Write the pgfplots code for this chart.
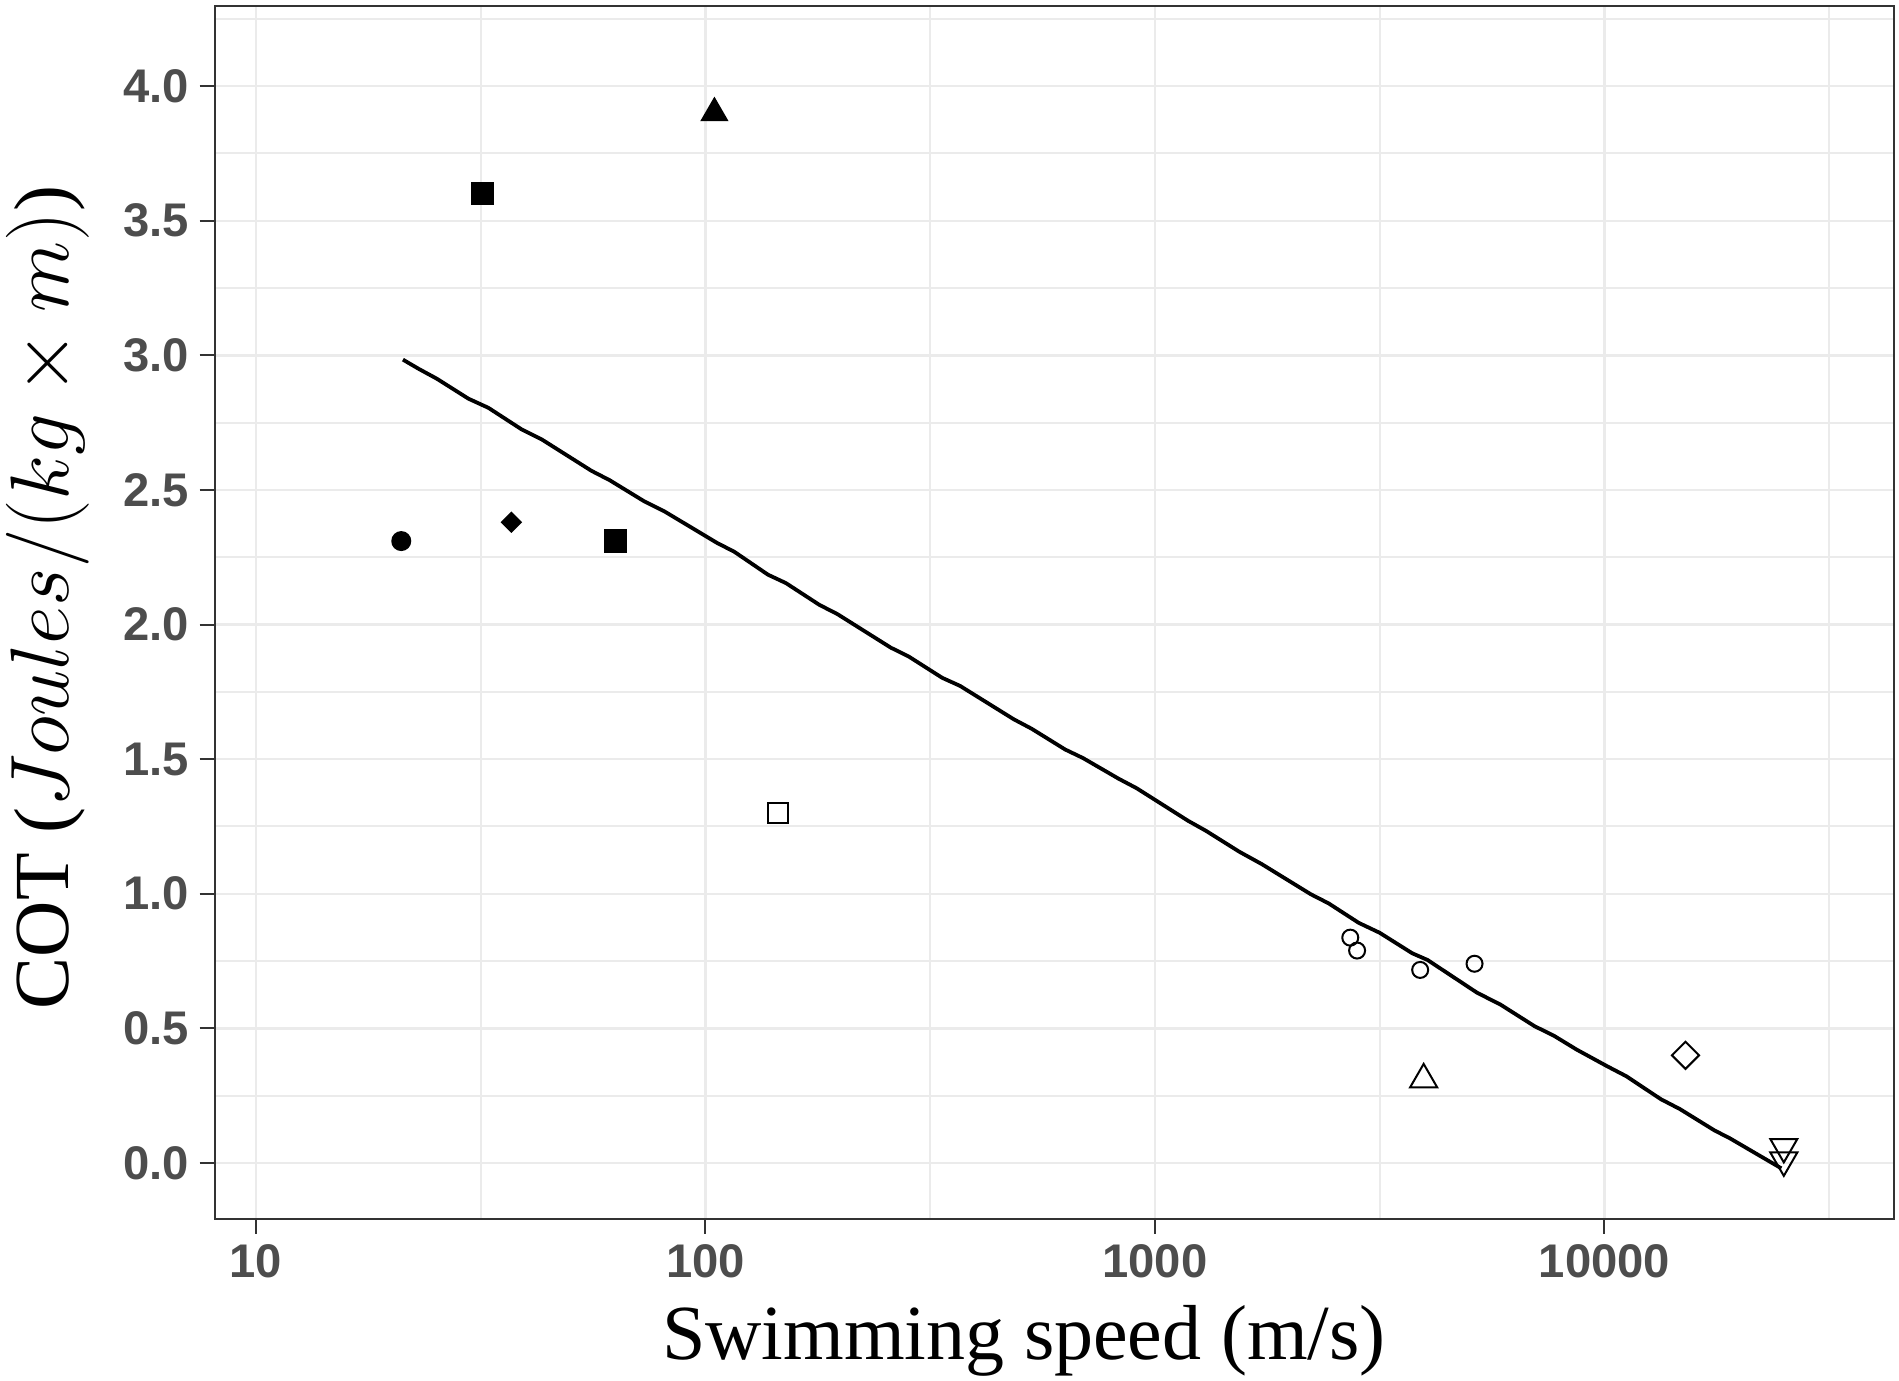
\documentclass[border=0pt]{standalone}
\usepackage{fontspec}
\setmainfont{Liberation Serif}
\newfontfamily\tickfont{Liberation Sans}
\usepackage{pgfplots}
\pgfplotsset{compat=1.18}
\definecolor{gridc}{HTML}{EBEBEB}
\definecolor{tickc}{HTML}{4D4D4D}
\definecolor{framec}{HTML}{333333}
\begin{document}
\begin{tikzpicture}
\path[use as bounding box] (-53.65pt,-40.575pt) rectangle (421.1pt,304.675pt);
\begin{axis}[
  scale only axis, width=419.875pt, height=303.2pt,
  xmode=log, log basis x=10,
  xmin=8.09, xmax=44110, ymin=-0.207, ymax=4.298,
  xtick={10,100,1000,10000}, xticklabels={10,100,1000,10000},
  minor xtick={31.6227766,316.227766,3162.27766,31622.7766},
  ytick={0,0.5,1,1.5,2,2.5,3,3.5,4},
  yticklabels={0.0,0.5,1.0,1.5,2.0,2.5,3.0,3.5,4.0},
  minor ytick={0.25,0.75,1.25,1.75,2.25,2.75,3.25,3.75,4.25},
  grid=both,
  major grid style={gridc, line width=0.6pt},
  minor grid style={gridc, line width=0.5pt},
  tick align=outside, major tick length=3.75pt, minor tick length=0pt,
  xtick pos=bottom, ytick pos=left,
  tick style={framec, line width=0.5pt},
  axis line style={framec, line width=0.55pt},
  ticklabel style={font=\tickfont\bfseries\fontsize{11.8}{13}\selectfont, text=tickc},
  xticklabel style={anchor=base, inner sep=0pt, yshift=-11.05pt},
  yticklabel style={anchor=east, inner sep=0pt, xshift=-2.4pt},
]
% fitted line
\addplot[black, line width=0.95pt, mark=none] coordinates {
(21.23,2.984) (23.00,2.950) (25.26,2.913) (29.69,2.839) (32.89,2.805)
(38.99,2.725) (43.19,2.688) (55.77,2.571) (61.24,2.536) (73.20,2.457)
(81.10,2.420) (105.9,2.304) (116.0,2.270) (137.8,2.185) (151.0,2.154)
(179.3,2.073) (196.5,2.039) (258.5,1.914) (283.4,1.881) (336.4,1.802)
(368.6,1.772) (485.3,1.648) (531.6,1.613) (631.1,1.536) (691.8,1.504)
(830.9,1.427) (910.5,1.392) (1185,1.271) (1298,1.234) (1541,1.156)
(1729,1.110) (2223,0.998) (2436,0.964) (2840,0.892) (3162,0.855)
(3736,0.779) (4041,0.754) (5212,0.632) (5863,0.589) (6993,0.508)
(7714,0.473) (8677,0.421) (10148,0.359) (11193,0.322) (13350,0.237)
(14730,0.200) (17570,0.121) (19000,0.092) (24750,-0.020)
};
% filled circle
\addplot[only marks, mark=*, mark size=2.3pt, black] coordinates {(21.05,2.31)};
% filled squares
\addplot[only marks, mark=square*, mark size=2.7pt, black] coordinates {(31.95,3.60) (63.1,2.31)};
% filled diamond
\addplot[only marks, mark=square*, mark size=1.7pt, black, mark options={rotate=45}] coordinates {(37.0,2.38)};
% filled triangle
\addplot[only marks, mark=triangle*, mark size=3.7pt, black] coordinates {(104.7,3.90)};
% open square
\addplot[only marks, mark=square, mark size=2.5pt, black, mark options={line width=0.5pt}] coordinates {(145,1.30)};
% open circles
\addplot[only marks, mark=o, mark size=2.0pt, black, mark options={line width=0.5pt}] coordinates {(2720,0.837) (2817,0.789) (3892,0.717) (5141,0.740)};
% open triangle
\addplot[only marks, mark=triangle, mark size=3.9pt, black, mark options={line width=0.5pt}] coordinates {(3962,0.31)};
% open diamond
\addplot[only marks, mark=square, mark size=2.4pt, black, mark options={rotate=45, line width=0.5pt}] coordinates {(15150,0.40)};
% open down triangles
\addplot[only marks, mark=triangle, mark size=3.9pt, black, mark options={rotate=180, line width=0.5pt}] coordinates {(25070,0.06) (25070,0.01)};
\end{axis}
\node[anchor=base, inner sep=0pt, font=\fontsize{19.5}{22}\selectfont] at (202.35pt,-35.1pt) {Swimming speed (m/s)};
\node[anchor=base, inner sep=0pt, rotate=90, font=\fontsize{19.5}{22}\selectfont] at (-36.6pt,155.3pt) {COT ($Joules/(kg\times m)$)};
\end{tikzpicture}
\end{document}
